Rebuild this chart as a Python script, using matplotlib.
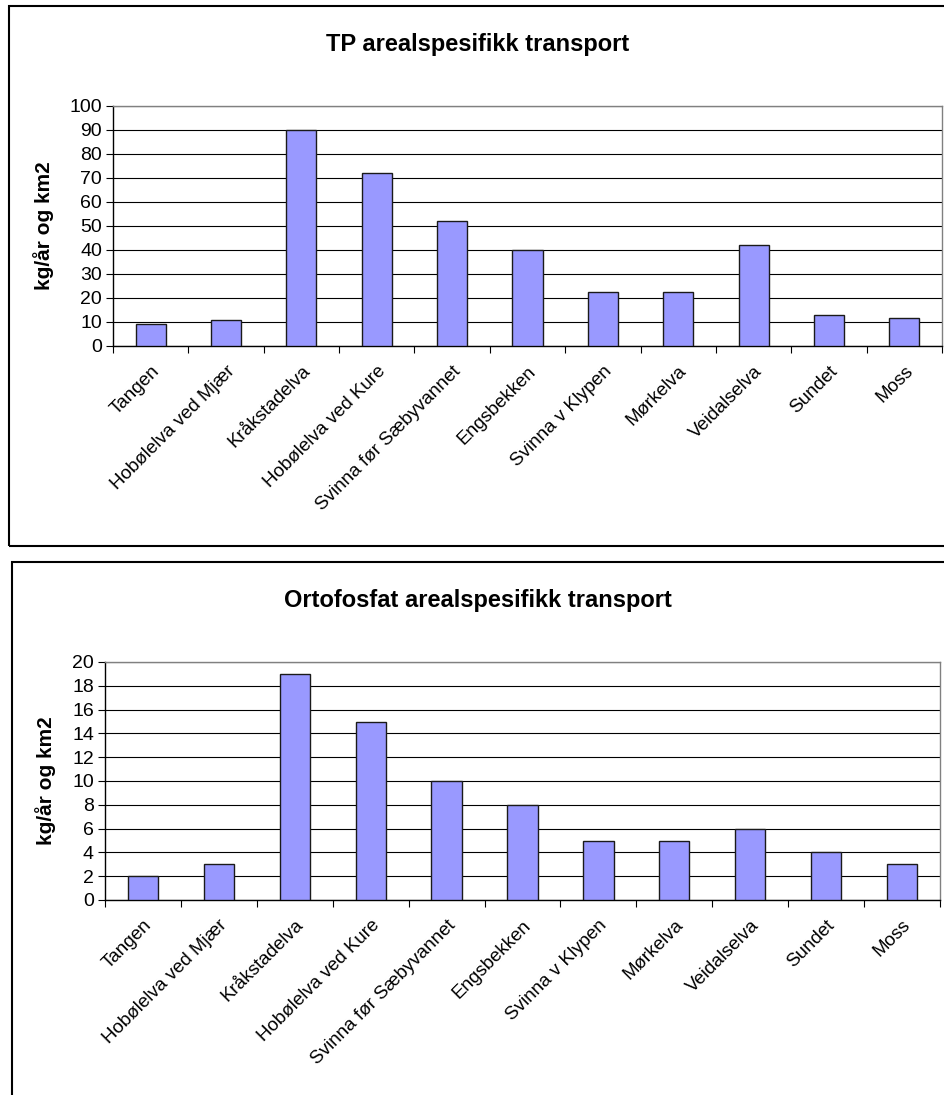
import matplotlib
matplotlib.use("Agg")
import matplotlib.pyplot as plt
from matplotlib.patches import Rectangle
import numpy as np

plt.rcParams['font.family'] = ['Liberation Sans', 'DejaVu Sans']

stations = ["Tangen", "Hobølelva ved Mjær", "Kråkstadelva", "Hobølelva ved Kure",
            "Svinna før Sæbyvannet", "Engsbekken", "Svinna v Klypen", "Mørkelva",
            "Veidalselva", "Sundet", "Moss"]
tp_values = [9, 11, 90, 72, 52, 40, 22.7, 22.7, 42, 12.8, 11.5]
po4_values = [2, 3, 19, 15, 10, 8, 5, 5, 6, 4, 3]

tp_title = "TP arealspesifikk transport"
po4_title = "Ortofosfat arealspesifikk transport"
ylabel = "kg/år og km2"

W, H = 944, 1095
fig = plt.figure(figsize=(W / 100, H / 100), dpi=100)

# outer chart frames
for (x0, y0, x1, y1) in [(9, 6, 960, 546), (12, 562, 960, 1110)]:
    fig.add_artist(Rectangle((x0 / W, 1 - y1 / H), (x1 - x0) / W, (y1 - y0) / H,
                             transform=fig.transFigure, fill=False,
                             edgecolor="black", linewidth=1.5))


def draw(rect, values, ymax, step, title, title_y, ylab_x):
    left, top, right, bottom = rect
    ax = fig.add_axes([left / W, 1 - bottom / H, (right - left) / W, (bottom - top) / H])
    x = np.arange(len(values))
    ax.bar(x, values, width=0.4, color="#9999FF", edgecolor="#1a1a1a", linewidth=1.0, zorder=3)
    ax.set_xlim(-0.5, len(values) - 0.5)
    ax.set_ylim(0, ymax)
    ax.set_yticks(np.arange(0, ymax + step / 2, step))
    ax.yaxis.grid(True, color="black", linewidth=0.8, zorder=0)
    ax.set_axisbelow(True)
    ax.tick_params(axis="y", direction="out", length=5, width=0.8, labelsize=14, pad=3)
    ax.set_xticks(np.arange(-0.5, len(values) + 0.5, 1))
    ax.set_xticklabels([])
    ax.tick_params(axis="x", direction="out", length=5, width=0.8)
    ax.set_xticks(x, minor=True)
    ax.set_xticklabels(stations, minor=True, rotation=45, ha="right", va="top",
                       rotation_mode="anchor", fontsize=13.5)
    ax.tick_params(axis="x", which="minor", length=0, pad=12)
    for s in ("top", "right"):
        ax.spines[s].set_color("#808080")
        ax.spines[s].set_linewidth(1.0)
    for s in ("left", "bottom"):
        ax.spines[s].set_color("black")
        ax.spines[s].set_linewidth(1.0)
    fig.text(478 / W, 1 - title_y / H, title,
             ha="center", va="center", fontsize=17, fontweight="bold")
    fig.text(ylab_x / W, 1 - (top + bottom) / 2 / H, ylabel, rotation=90,
             ha="center", va="center", fontsize=15, fontweight="bold")
    return ax


draw((113, 106, 942, 346), tp_values, 100, 10, tp_title, 44, 44)
draw((105, 662, 940, 900), po4_values, 20, 2, po4_title, 600, 46)

fig.savefig("out.png", dpi=100)
